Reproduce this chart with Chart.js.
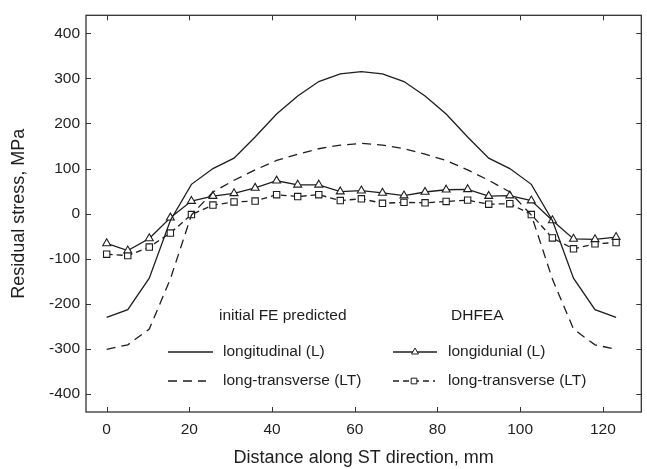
<!DOCTYPE html>
<html lang="en">
<head>
  <meta charset="UTF-8">
  <title>Residual stress along ST direction</title>
  <style>
    html, body {
      margin: 0;
      padding: 0;
      background: #fff;
    }

    #wrap {
      width: 647px;
      height: 469px;
    }
  </style>
</head>
<body>
  <div id="wrap"><canvas id="stressChart" width="647" height="469"></canvas></div>

  <script src="https://cdn.jsdelivr.net/npm/chart.js@4.4.1/dist/chart.umd.min.js"></script>
  <script>
    // distance along ST direction, mm
    const distance = [0, 5.1, 10.3, 15.4, 20.5, 25.7, 30.8, 35.9, 41.1, 46.2, 51.3, 56.5, 61.6,
      66.7, 71.9, 77.0, 82.1, 87.3, 92.4, 97.5, 102.7, 107.8, 112.9, 118.1, 123.2];

    // initial FE predicted, MPa
    const feLong = [-230, -213, -143, -15, 65, 100, 123, 170, 221, 261, 293, 310, 315,
      310, 293, 261, 221, 170, 123, 100, 65, -15, -143, -213, -230];
    const feLongTrans = [-301, -291, -256, -145, -3, 48, 74, 97, 118, 132, 144, 152, 156,
      152, 144, 132, 118, 97, 74, 48, -3, -145, -256, -291, -301];

    // DHFEA, MPa
    const dhLong = [-66, -82, -55, -9, 28, 39, 45, 57, 73, 64, 64, 49, 51,
      46, 40, 48, 53, 54, 39, 40, 29, -15, -56, -57, -52];
    const dhLongTrans = [-90, -93, -74, -43, -2, 19, 26, 28, 42, 38, 42, 29, 33,
      23, 25, 24, 27, 30, 21, 22, -2, -54, -78, -67, -64];

    const xTicks = [0, 20, 40, 60, 80, 100, 120];
    const yTicks = [-400, -300, -200, -100, 0, 100, 200, 300, 400];

    const seriesLabels = ['longitudinal (L)', 'long-transverse (LT)', 'longidunial (L)', 'long-transverse (LT)'];
    const legendHeads = ['initial FE predicted', 'DHFEA'];

    const ink = '#1e1e1e';
    const fontFamily = '"Liberation Sans", Arial, Helvetica, sans-serif';

    function pairs(ys) {
      return ys.map((y, i) => ({ x: distance[i], y: y }));
    }

    // box round the plot with short inward tick marks on all four sides
    const frameTicks = {
      id: 'frameTicks',
      afterDraw(chart) {
        const { ctx, chartArea: a, scales: { x, y } } = chart;
        const len = 5;
        ctx.save();
        ctx.strokeStyle = '#333';
        ctx.lineWidth = 1.3;
        ctx.strokeRect(a.left, a.top, a.right - a.left, a.bottom - a.top);
        ctx.lineWidth = 1;
        ctx.beginPath();
        x.ticks.forEach(t => {
          const px = Math.round(x.getPixelForValue(t.value)) + 0.5;
          ctx.moveTo(px, a.bottom); ctx.lineTo(px, a.bottom - len);
          ctx.moveTo(px, a.top); ctx.lineTo(px, a.top + len);
        });
        y.ticks.forEach(t => {
          const py = Math.round(y.getPixelForValue(t.value)) + 0.5;
          ctx.moveTo(a.left, py); ctx.lineTo(a.left + len, py);
          ctx.moveTo(a.right, py); ctx.lineTo(a.right - len, py);
        });
        ctx.stroke();
        ctx.restore();
      }
    };

    function marker(ctx, style, x, y, r) {
      ctx.beginPath();
      if (style === 'triangle') {
        for (let k = 0; k < 3; k++) {
          const ang = k * 2 * Math.PI / 3;
          const px = x + Math.sin(ang) * r, py = y - Math.cos(ang) * r;
          if (k === 0) ctx.moveTo(px, py); else ctx.lineTo(px, py);
        }
        ctx.closePath();
      } else {
        const s = r * Math.SQRT1_2;
        ctx.rect(x - s, y - s, 2 * s, 2 * s);
      }
      ctx.fillStyle = '#fff';
      ctx.fill();
      ctx.stroke();
    }

    // two-column legend inside the plot
    const legendBox = {
      id: 'legendBox',
      afterDatasetsDraw(chart) {
        const ctx = chart.ctx;
        const ds = chart.data.datasets;
        ctx.save();
        ctx.font = '15.5px ' + fontFamily;
        ctx.textBaseline = 'middle';
        ctx.fillStyle = ink;
        ctx.fillText(legendHeads[0], 219, 316);
        ctx.fillText(legendHeads[1], 451, 316);

        const slots = [
          { i: 0, x: 168, y: 352, w: 45 },
          { i: 1, x: 168, y: 381, w: 38 },
          { i: 2, x: 393, y: 352, w: 44 },
          { i: 3, x: 393, y: 381, w: 42 }
        ];
        slots.forEach(s => {
          const d = ds[s.i];
          ctx.strokeStyle = d.borderColor;
          ctx.lineWidth = d.borderWidth;
          ctx.setLineDash(d.borderDash || []);
          ctx.beginPath();
          ctx.moveTo(s.x, s.y);
          ctx.lineTo(s.x + s.w, s.y);
          ctx.stroke();
          ctx.setLineDash([]);
          if (d.pointRadius > 0) {
            ctx.lineWidth = 1;
            marker(ctx, d.pointStyle, s.x + s.w / 2, s.y, 4);
          }
          ctx.fillStyle = ink;
          ctx.fillText(d.label, s.i < 2 ? 223 : 448, s.y);
        });
        ctx.restore();
      }
    };

    const ctx = document.getElementById('stressChart').getContext('2d');
    const stressChart = new Chart(ctx, {
      type: 'line',
      data: {
        datasets: [
          {
            label: seriesLabels[0],
            data: pairs(feLong),
            borderColor: ink,
            borderWidth: 1.3,
            pointRadius: 0,
            tension: 0
          },
          {
            label: seriesLabels[1],
            data: pairs(feLongTrans),
            borderColor: ink,
            borderWidth: 1.3,
            borderDash: [9, 6],
            pointRadius: 0,
            tension: 0
          },
          {
            label: seriesLabels[2],
            data: pairs(dhLong),
            borderColor: ink,
            borderWidth: 1.3,
            pointStyle: 'triangle',
            pointRadius: 4.6,
            pointBorderWidth: 1.1,
            pointBackgroundColor: '#fff',
            pointBorderColor: ink,
            tension: 0
          },
          {
            label: seriesLabels[3],
            data: pairs(dhLongTrans),
            borderColor: ink,
            borderWidth: 1.3,
            borderDash: [6, 4],
            pointStyle: 'rect',
            pointRadius: 4.5,
            pointBorderWidth: 1.1,
            pointBackgroundColor: '#fff',
            pointBorderColor: ink,
            tension: 0
          }
        ]
      },
      options: {
        responsive: false,
        animation: false,
        layout: {
          padding: { top: 12, right: 4, left: 0, bottom: 0 }
        },
        plugins: {
          legend: { display: false },
          tooltip: { enabled: false }
        },
        scales: {
          x: {
            type: 'linear',
            min: -5,
            max: 129.3,
            afterBuildTicks: scale => { scale.ticks = xTicks.map(v => ({ value: v })); },
            afterFit: scale => { scale.height = 57; },
            grid: { display: false, drawTicks: false },
            border: { display: false },
            ticks: {
              padding: 8,
              color: ink,
              font: { family: fontFamily, size: 15.5 }
            },
            title: {
              display: true,
              text: 'Distance along ST direction, mm',
              color: ink,
              padding: { top: 0, bottom: 0 },
              font: { family: fontFamily, size: 18 }
            }
          },
          y: {
            min: -440,
            max: 440,
            afterBuildTicks: scale => { scale.ticks = yTicks.map(v => ({ value: v })); },
            afterFit: scale => { scale.width = 86; },
            grid: { display: false, drawTicks: false },
            border: { display: false },
            ticks: {
              padding: 6,
              color: ink,
              font: { family: fontFamily, size: 15.5 }
            },
            title: {
              display: true,
              text: 'Residual stress, MPa',
              color: ink,
              padding: { top: 8, bottom: 0 },
              font: { family: fontFamily, size: 18 }
            }
          }
        }
      },
      plugins: [frameTicks, legendBox]
    });
  </script>
</body>
</html>
